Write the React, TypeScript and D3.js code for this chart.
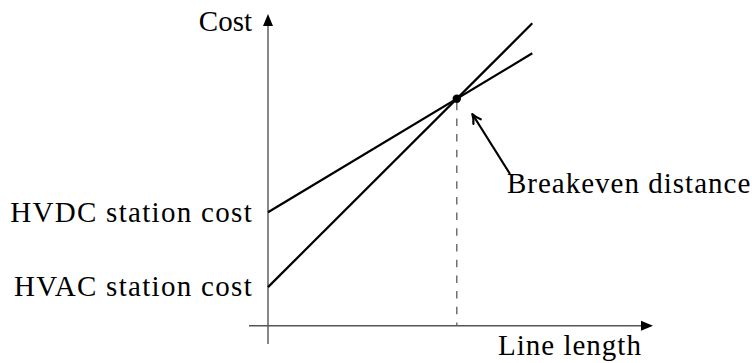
import React from "react";
import * as d3 from "d3";

// Data (arbitrary units read from the schematic)
const lineLengthRange = [0, 9.8];
const hvdcCost = [5, 12];
const hvacCost = [1.7, 13.32];
const breakevenLength = 7;
const breakevenCost = 10;
const labels = {
  cost: "Cost",
  length: "Line length",
  hvdc: "HVDC station cost",
  hvac: "HVAC station cost",
  breakeven: "Breakeven distance",
};

const W = 752;
const H = 363;
const FONT = "Liberation Serif";
const FS = 29;
const AXIS_COLOR = "#555";

export default function App() {
  const x = d3.scaleLinear().domain([0, 9.8]).range([268, 532.3]);
  const y = d3.scaleLinear().domain([0, 10]).range([325.7, 98.7]);

  const x0 = x(0);
  const y0 = y(0);
  const line = d3
    .line<[number, number]>()
    .x((d) => x(d[0]))
    .y((d) => y(d[1]));

  const hvdcPts: [number, number][] = lineLengthRange.map((l, i) => [l, hvdcCost[i]]);
  const hvacPts: [number, number][] = lineLengthRange.map((l, i) => [l, hvacCost[i]]);

  const bx = x(breakevenLength);
  const by = y(breakevenCost);

  const yTop = 14;
  const yBottom = 344;
  const xLeft = 249;
  const xRight = 653;
  const ah = 12;
  const aw = 5;

  const tip: [number, number] = [bx + 15.5, by + 15.3];
  const tail: [number, number] = [510, 174];
  const ang = Math.atan2(tail[1] - tip[1], tail[0] - tip[0]);
  const bl = 10;
  const spread = 0.45;
  const b1: [number, number] = [tip[0] + bl * Math.cos(ang + spread), tip[1] + bl * Math.sin(ang + spread)];
  const b2: [number, number] = [tip[0] + bl * Math.cos(ang - spread), tip[1] + bl * Math.sin(ang - spread)];
  const c1: [number, number] = [tip[0] + 5 * Math.cos(ang + 0.25), tip[1] + 5 * Math.sin(ang + 0.25)];
  const c2: [number, number] = [tip[0] + 5 * Math.cos(ang - 0.25), tip[1] + 5 * Math.sin(ang - 0.25)];

  return (
    <svg
      width={W}
      height={H}
      style={{ position: "absolute", left: 0, top: 0, background: "#fff" }}
    >
      <line x1={x0} y1={yBottom} x2={x0} y2={yTop + ah - 1} stroke={AXIS_COLOR} strokeWidth={1.4} />
      <path d={`M${x0},${yTop} L${x0 - aw},${yTop + ah} L${x0 + aw},${yTop + ah} Z`} fill="#000" />
      <line x1={xLeft} y1={y0} x2={xRight - ah + 1} y2={y0} stroke={AXIS_COLOR} strokeWidth={1.4} />
      <path d={`M${xRight},${y0} L${xRight - ah},${y0 - aw} L${xRight - ah},${y0 + aw} Z`} fill="#000" />

      <line x1={bx} y1={by} x2={bx} y2={y0} stroke="#666" strokeWidth={1.4} strokeDasharray="7.5,8.2" strokeDashoffset={-4} />

      <path d={line(hvdcPts) || ""} fill="none" stroke="#000" strokeWidth={2.2} />
      <path d={line(hvacPts) || ""} fill="none" stroke="#000" strokeWidth={2.2} />

      <circle cx={bx} cy={by} r={4.2} fill="#000" />

      <line x1={tail[0]} y1={tail[1]} x2={tip[0] + 1.5 * Math.cos(ang)} y2={tip[1] + 1.5 * Math.sin(ang)} stroke="#000" strokeWidth={2.2} />
      <path
        d={`M${b1[0]},${b1[1]} Q${c1[0]},${c1[1]} ${tip[0]},${tip[1]} Q${c2[0]},${c2[1]} ${b2[0]},${b2[1]}`}
        fill="none"
        stroke="#000"
        strokeWidth={2.2}
        strokeLinecap="round"
        strokeLinejoin="round"
      />

      <g fontFamily={FONT} fontSize={FS} fill="#000">
        <text x={252} y={31} textAnchor="end">{labels.cost}</text>
        <text x={253} y={222} textAnchor="end" letterSpacing={1.3}>{labels.hvdc}</text>
        <text x={253} y={296} textAnchor="end" letterSpacing={1.3}>{labels.hvac}</text>
        <text x={498} y={355} letterSpacing={1}>{labels.length}</text>
        <text x={507} y={192.5} letterSpacing={1}>{labels.breakeven}</text>
      </g>
    </svg>
  );
}
